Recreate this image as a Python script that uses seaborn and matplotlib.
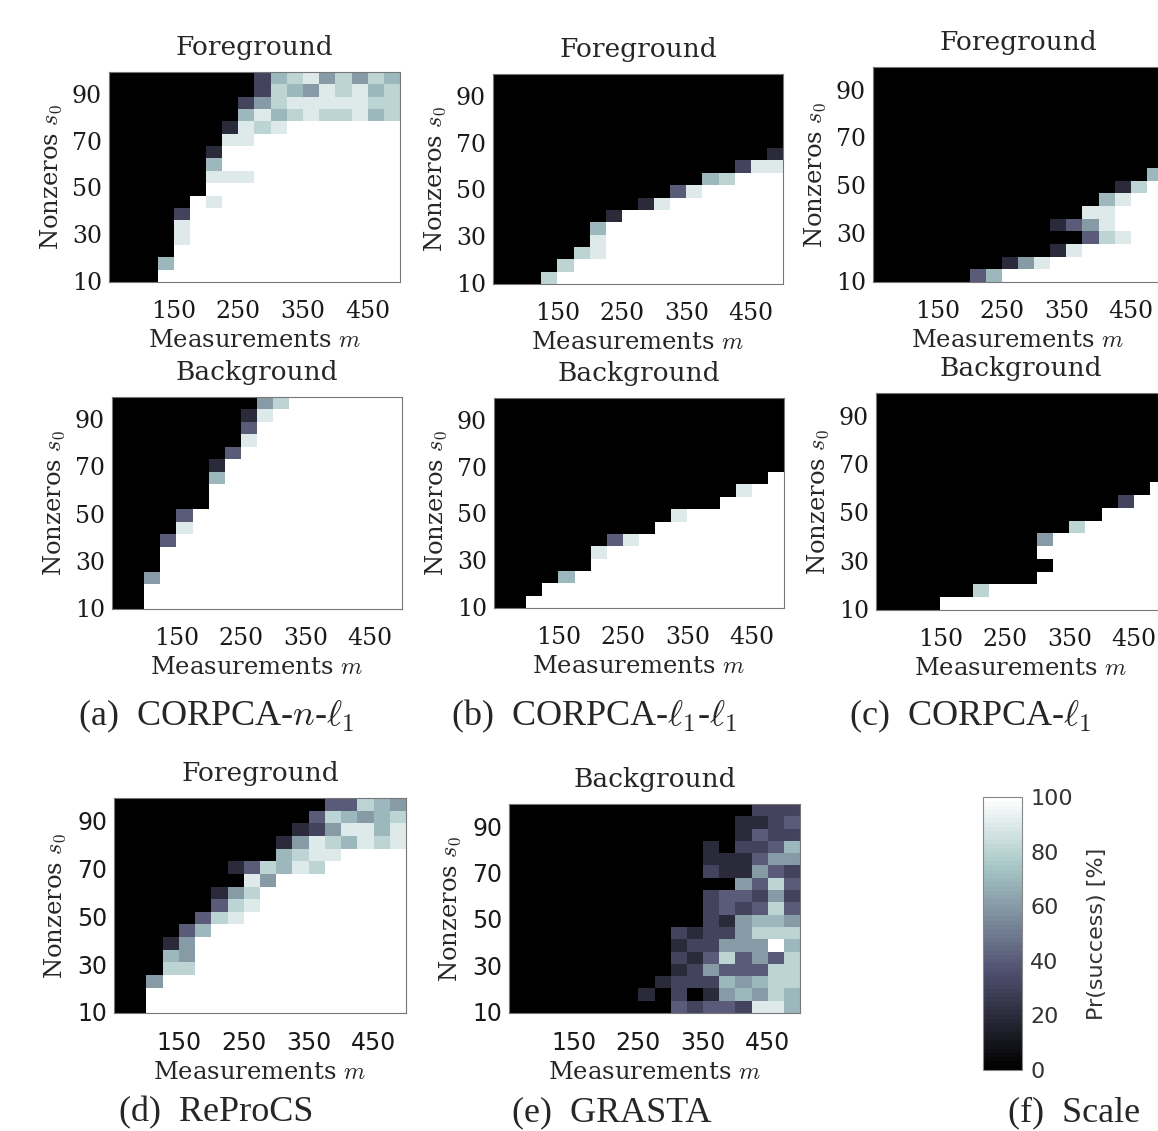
import pandas as pd
import seaborn as sns
import matplotlib as mpl
import matplotlib.pyplot as plt

sns.set_style('white')
plt.rcParams['font.family'] = ['DejaVu Serif']
plt.rcParams['mathtext.fontset'] = 'cm'

FIG_W, FIG_H = 1158, 1131

# axis ranges covered by the cell grid (18 columns of m, 17 rows of s0)
M_RANGE = (50, 500)
S0_RANGE = (9.5, 99.5)
M_TICKS = [150, 250, 350, 450]
S0_TICKS = [10, 30, 50, 70, 90]
CBAR_TICKS = [0, 20, 40, 60, 80, 100]

# success rate per cell
# rows go from top (large s0) to bottom (small s0), columns from small m to large m
# '.' = 0 %, digit d = d*10 %, 'W' = 100 %
LEVELS = {'.': 0, '1': 10, '2': 20, '3': 30, '4': 40, '5': 50,
          '6': 60, '7': 70, '8': 80, '9': 90, 'W': 100}

corpca_n_l1_fg = [
    ".........378968687",
    ".........387698978",
    "........3689999988",
    "........7978988978",
    ".......2989WWWWWWW",
    ".......99WWWWWWWWW",
    "......2WWWWWWWWWWW",
    "......7WWWWWWWWWWW",
    "......999WWWWWWWWW",
    "......WWWWWWWWWWWW",
    ".....W9WWWWWWWWWWW",
    "....3WWWWWWWWWWWWW",
    "....9WWWWWWWWWWWWW",
    "....9WWWWWWWWWWWWW",
    "....WWWWWWWWWWWWWW",
    "...7WWWWWWWWWWWWWW",
    "...WWWWWWWWWWWWWWW",
]

corpca_l1_l1_fg = [
    "..................",
    "..................",
    "..................",
    "..................",
    "..................",
    "..................",
    ".................2",
    "...............399",
    ".............78WWW",
    "...........49WWWWW",
    ".........29WWWWWWW",
    ".......2WWWWWWWWWW",
    "......7WWWWWWWWWWW",
    "......9WWWWWWWWWWW",
    ".....89WWWWWWWWWWW",
    "....8WWWWWWWWWWWWW",
    "...8WWWWWWWWWWWWWW",
]

corpca_l1_fg = [
    "..................",
    "..................",
    "..................",
    "..................",
    "..................",
    "..................",
    "..................",
    "..................",
    ".................7",
    "...............28W",
    "..............79WW",
    ".............99WWW",
    "...........2469WWW",
    ".............489WW",
    "...........29WWWWW",
    "........269WWWWWWW",
    "......47WWWWWWWWWW",
]

corpca_n_l1_bg = [
    ".........68WWWWWWW",
    "........29WWWWWWWW",
    "........4WWWWWWWWW",
    "........9WWWWWWWWW",
    ".......4WWWWWWWWWW",
    "......2WWWWWWWWWWW",
    "......7WWWWWWWWWWW",
    "......WWWWWWWWWWWW",
    "......WWWWWWWWWWWW",
    "....4WWWWWWWWWWWWW",
    "....9WWWWWWWWWWWWW",
    "...4WWWWWWWWWWWWWW",
    "...WWWWWWWWWWWWWWW",
    "...WWWWWWWWWWWWWWW",
    "..6WWWWWWWWWWWWWWW",
    "..WWWWWWWWWWWWWWWW",
    "..WWWWWWWWWWWWWWWW",
]

corpca_l1_l1_bg = [
    "..................",
    "..................",
    "..................",
    "..................",
    "..................",
    "..................",
    ".................W",
    "...............9WW",
    "..............WWWW",
    "...........9WWWWWW",
    "..........WWWWWWWW",
    ".......49WWWWWWWWW",
    "......9WWWWWWWWWWW",
    "......WWWWWWWWWWWW",
    "....7WWWWWWWWWWWWW",
    "...WWWWWWWWWWWWWWW",
    "..WWWWWWWWWWWWWWWW",
]

corpca_l1_bg = [
    "..................",
    "..................",
    "..................",
    "..................",
    "..................",
    "..................",
    "..................",
    ".................W",
    "...............3WW",
    "..............WWWW",
    "............8WWWWW",
    "..........6WWWWWWW",
    "..........WWWWWWWW",
    "...........WWWWWWW",
    "..........WWWWWWWW",
    "......8WWWWWWWWWWW",
    "....WWWWWWWWWWWWWW",
]

reprocs_fg = [
    ".............44876",
    "............487678",
    "...........2369979",
    "..........26987989",
    "..........7899WWWW",
    ".......248798WWWWW",
    "........96WWWWWWWW",
    "......268WWWWWWWWW",
    "......489WWWWWWWWW",
    ".....489WWWWWWWWWW",
    "....47WWWWWWWWWWWW",
    "...26WWWWWWWWWWWWW",
    "...76WWWWWWWWWWWWW",
    "...88WWWWWWWWWWWWW",
    "..6WWWWWWWWWWWWWWW",
    "..WWWWWWWWWWWWWWWW",
    "..WWWWWWWWWWWWWWWW",
]

grasta_bg = [
    "...............333",
    "..............2234",
    "..............2433",
    "............2.3347",
    "............222466",
    "............322643",
    "..............6484",
    "............344363",
    "............343484",
    "............326776",
    "..........32336888",
    "..........233666W7",
    "..........32484648",
    "..........23644488",
    ".........233376788",
    "........2.3.267687",
    "..........43443997",
]

captions = [
    r'(a)  CORPCA-$n$-$\ell_1$',
    r'(b)  CORPCA-$\ell_1$-$\ell_1$',
    r'(c)  CORPCA-$\ell_1$',
    '(d)  ReProCS',
    '(e)  GRASTA',
    '(f)  Scale',
]

cmap = mpl.colormaps['bone'].resampled(64)

fig = plt.figure(figsize=(FIG_W / 100, FIG_H / 100), dpi=100)


def add_axes(box):
    # box in pixels: left, top, right, bottom
    x0, y0, x1, y1 = box
    return fig.add_axes([x0 / FIG_W, 1 - y1 / FIG_H, (x1 - x0) / FIG_W, (y1 - y0) / FIG_H])


def draw_panel(box, rows, title, tick_family):
    ax = add_axes(box)
    df = pd.DataFrame([[LEVELS[c] for c in r] for r in rows])
    sns.heatmap(df, ax=ax, cmap=cmap, vmin=0, vmax=100, cbar=False,
                xticklabels=False, yticklabels=False)

    n_rows, n_cols = df.shape
    ax.set_xticks([(v - M_RANGE[0]) / (M_RANGE[1] - M_RANGE[0]) * n_cols for v in M_TICKS])
    ax.set_xticklabels(M_TICKS, fontfamily=tick_family, fontsize=17)
    ax.set_yticks([(S0_RANGE[1] - v) / (S0_RANGE[1] - S0_RANGE[0]) * n_rows for v in S0_TICKS])
    ax.set_yticklabels(S0_TICKS, fontfamily=tick_family, fontsize=17, rotation=0)

    for spine in ax.spines.values():
        spine.set_visible(True)
        spine.set_color('#777777')
        spine.set_linewidth(0.8)
    ax.tick_params(direction='in', length=4, width=0.7, color='#555555',
                   top=True, right=True, labelcolor='#1a1a1a')
    ax.tick_params(axis='x', pad=13)
    ax.tick_params(axis='y', pad=5)

    ax.set_xlabel('Measurements $m$', fontsize=17.5, labelpad=4)
    ax.set_ylabel('Nonzeros $s_0$', fontsize=17.5, labelpad=6)
    ax.set_title(title, fontsize=19, pad=12)
    return ax


serif, sans = 'DejaVu Serif', 'DejaVu Sans'
draw_panel((109, 72, 400, 282), corpca_n_l1_fg, 'Foreground', serif)
draw_panel((493, 74, 783, 284), corpca_l1_l1_fg, 'Foreground', serif)
draw_panel((873, 67, 1163, 282), corpca_l1_fg, 'Foreground', serif)
draw_panel((112, 397, 402, 609), corpca_n_l1_bg, 'Background', serif)
draw_panel((494, 398, 784, 608), corpca_l1_l1_bg, 'Background', serif)
draw_panel((876, 393, 1166, 610), corpca_l1_bg, 'Background', serif)
draw_panel((114, 798, 406, 1013), reprocs_fg, 'Foreground', sans)
ax_e = draw_panel((509, 804, 800, 1013), grasta_bg, 'Background', sans)

# colour scale
cax = add_axes((983, 797, 1022, 1070))
cb = fig.colorbar(ax_e.collections[0], cax=cax, ticks=CBAR_TICKS)
cb.outline.set_edgecolor('#888888')
cb.outline.set_linewidth(0.8)
cax.tick_params(direction='in', length=3, width=0.7, color='#444444',
                labelsize=16, labelcolor='#333333', pad=6)
for lbl in cax.get_yticklabels():
    lbl.set_fontfamily(sans)
cb.set_label('Pr(success) [%]', fontfamily=sans, fontsize=16, color='#333333', labelpad=10)

# sub-figure captions
caption_xy = [(216, 716), (594, 716), (970, 716), (216, 1113), (612, 1113), (1074, 1113)]
for text, (x, y) in zip(captions, caption_xy):
    fig.text(x / FIG_W, 1 - y / FIG_H, text, ha='center', va='center',
             fontfamily='Liberation Serif', fontsize=26)

fig.savefig('out.png', dpi=100)
